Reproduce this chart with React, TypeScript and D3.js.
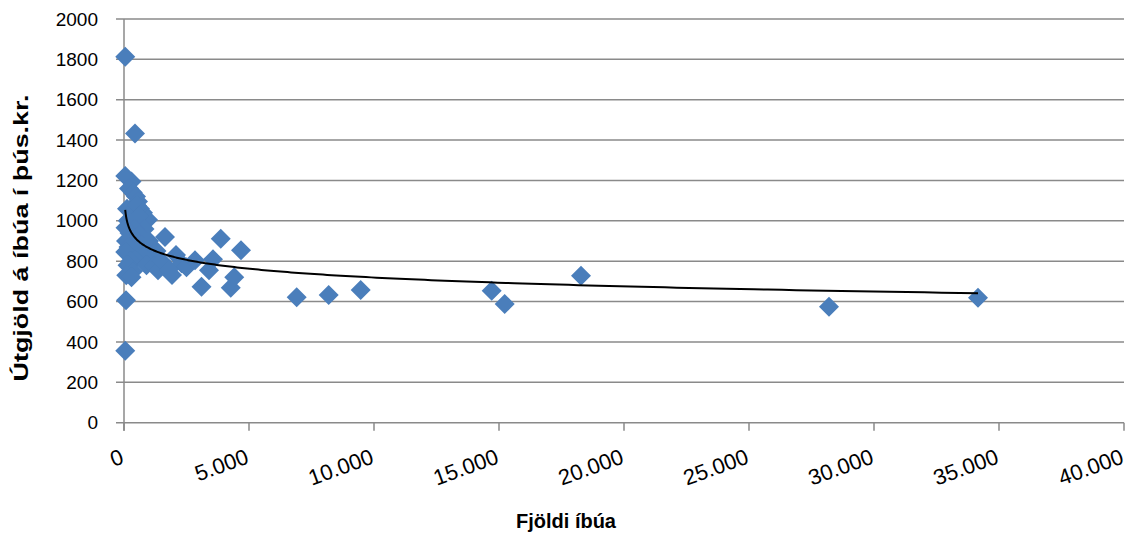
import { useMemo } from 'react';
import * as d3 from 'd3';

// Fjöldi íbúa (x) og útgjöld á íbúa í þús.kr. (y) per sveitarfélag
const population = [
  50, 440, 50, 300, 200, 350, 480, 560, 120, 400, 640, 520, 760, 700, 880, 960,
  600, 150, 60, 820, 420, 220, 620, 80, 500, 1000, 700, 180, 840, 560, 50, 1100,
  1300, 780, 440, 260, 900, 140, 1200, 360, 1360, 90, 300, 1500, 1640, 1800, 1920,
  2080, 2300, 2500, 2840, 3100, 3400, 3560, 3870, 4270, 4410, 4680, 80, 50,
  6907, 8187, 9467, 14707, 15227, 18280, 28200, 34160,
];
const spending = [
  1812, 1432, 1222, 1195, 1160, 1140, 1120, 1095, 1060, 1050, 1060, 1075, 1040, 1000, 1010, 1005,
  1020, 1000, 965, 960, 960, 940, 930, 900, 900, 900, 880, 870, 870, 850, 845, 840,
  850, 820, 810, 800, 780, 780, 780, 750, 755, 730, 720, 800, 920, 760, 731,
  830, 790, 770, 804, 673, 755, 809, 911, 668, 720, 854, 606, 356,
  621, 632, 657, 653, 588, 728, 574, 619,
];

const xTicks = [0, 5000, 10000, 15000, 20000, 25000, 30000, 35000, 40000];
const yTicks = [0, 200, 400, 600, 800, 1000, 1200, 1400, 1600, 1800, 2000];

const xTitle = 'Fjöldi íbúa';
const yTitle = 'Útgjöld á íbúa í þús.kr.';

const W = 1132;
const H = 536;
const font = '"Liberation Sans", Arial, sans-serif';

const isFormat = d3.formatLocale({
  decimal: ',',
  thousands: '.',
  grouping: [3],
  currency: ['', ''],
}).format(',');

export default function App() {
  const x = d3.scaleLinear().domain([0, 40000]).range([124, 1124]);
  const y = d3.scaleLinear().domain([0, 2000]).range([422.7, 18.9]);

  const points = population.map((p, i) => ({ p, s: spending[i] }));

  // logarithmic trendline (least squares on ln x), like Excel's
  const trend = useMemo(() => {
    const u = population.map((p) => Math.log(p));
    const mu = d3.mean(u) as number;
    const my = d3.mean(spending) as number;
    let sxy = 0;
    let sxx = 0;
    u.forEach((v, i) => {
      sxy += (v - mu) * (spending[i] - my);
      sxx += (v - mu) * (v - mu);
    });
    const b = sxy / sxx;
    const a = my - b * mu;
    const [lo, hi] = d3.extent(population) as [number, number];
    const xs = d3.range(0, 301).map((k) => lo * Math.pow(hi / lo, k / 300));
    return xs.map((v) => [v, a + b * Math.log(v)] as [number, number]);
  }, []);

  const line = d3
    .line<[number, number]>()
    .x((d) => x(d[0]))
    .y((d) => y(d[1]));

  const r = 10;
  const diamond = `M0,${-r}L${r},0L0,${r}L${-r},0Z`;

  return (
    <div style={{ position: 'absolute', left: 0, top: 0 }}>
      <svg width={W} height={H} style={{ display: 'block', background: '#fff' }}>
        {/* gridlines */}
        {yTicks.map((t) => (
          <line key={t} x1={x(0) - 8} x2={x(40000)} y1={y(t)} y2={y(t)} stroke="#8a8a8a" strokeWidth={1.5} />
        ))}
        {/* y axis */}
        <line x1={x(0)} x2={x(0)} y1={y(2000)} y2={y(0) + 8} stroke="#8a8a8a" strokeWidth={1.5} />
        {xTicks.map((t) => (
          <line key={t} x1={x(t)} x2={x(t)} y1={y(0)} y2={y(0) + 8} stroke="#8a8a8a" strokeWidth={1.5} />
        ))}

        {yTicks.map((t) => (
          <text key={t} x={98} y={y(t)} dy="0.35em" textAnchor="end" fontFamily={font} fontSize={19} fill="#000">
            {t}
          </text>
        ))}
        {xTicks.map((t) => (
          <text
            key={t}
            transform={`translate(${x(t) + 1},${y(0) + 40}) rotate(-20)`}
            textAnchor="end"
            fontFamily={font}
            fontSize={22}
            fill="#000"
          >
            {isFormat(t)}
          </text>
        ))}

        {/* markers */}
        {points.map((d, i) => (
          <path key={i} d={diamond} transform={`translate(${x(d.p)},${y(d.s)})`} fill="#4A7EBB" />
        ))}

        <path d={line(trend) || ''} fill="none" stroke="#000" strokeWidth={2} />

        <text x={566} y={528} textAnchor="middle" fontFamily={font} fontWeight="bold" fontSize={20} fill="#000">
          {xTitle}
        </text>
        <text
          transform={`translate(28,238) rotate(-90)`}
          textAnchor="middle"
          fontFamily={font}
          fontWeight="bold"
          fontSize={21}
          textLength={287}
          lengthAdjust="spacingAndGlyphs"
          fill="#000"
        >
          {yTitle}
        </text>
      </svg>
    </div>
  );
}
